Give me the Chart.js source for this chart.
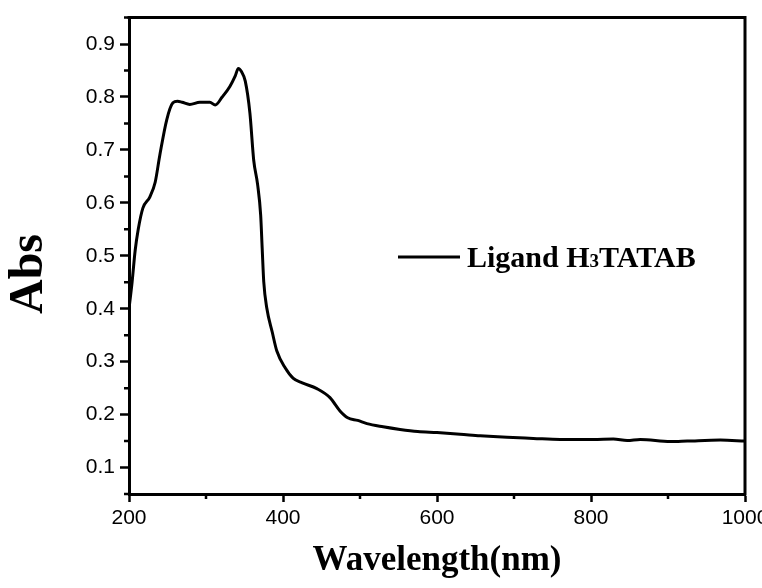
<!DOCTYPE html>
<html>
<head>
<meta charset="utf-8">
<title>Abs spectrum</title>
<script src="https://cdn.jsdelivr.net/npm/chart.js@4.4.0/dist/chart.umd.min.js"></script>
<style>
  html, body { margin: 0; padding: 0; background: #fff; }
  #wrap { width: 762px; height: 588px; overflow: hidden; }
</style>
</head>
<body>
<div id="wrap"><canvas id="absChart" width="762" height="588"></canvas></div>
<script>
// UV-Vis absorption of the ligand
const wavelength = [200, 204, 208, 212, 218, 227, 234, 240, 249, 257, 263, 269, 279, 292, 305, 312,
  321, 331, 338, 342, 346, 351, 357, 362, 367, 371, 373, 375, 379, 386, 392, 403, 413, 425, 444,
  461, 474, 484, 497, 509, 530, 552, 575, 600, 630, 656, 691, 725, 760, 803, 829, 847, 864, 903,
  925, 968, 1000];
const absorbance = [0.400, 0.450, 0.510, 0.550, 0.590, 0.611, 0.639, 0.690, 0.757, 0.789, 0.792,
  0.790, 0.786, 0.790, 0.790, 0.785, 0.800, 0.820, 0.840, 0.854, 0.848, 0.830, 0.770, 0.680,
  0.635, 0.577, 0.513, 0.451, 0.401, 0.356, 0.320, 0.288, 0.269, 0.260, 0.249, 0.232, 0.207,
  0.194, 0.189, 0.183, 0.177, 0.172, 0.168, 0.166, 0.163, 0.160, 0.157, 0.155, 0.153, 0.153,
  0.154, 0.151, 0.153, 0.149, 0.150, 0.152, 0.150];

const xTicks = [200, 400, 600, 800, 1000];
const xMinorTicks = [300, 500, 700, 900];
const yTicks = [0.1, 0.2, 0.3, 0.4, 0.5, 0.6, 0.7, 0.8, 0.9];
const yMinorTicks = [0.05, 0.15, 0.25, 0.35, 0.45, 0.55, 0.65, 0.75, 0.85, 0.95];

// legend text is split so the "3" can be drawn as a small digit
const seriesName = ['Ligand H', '3', 'TATAB'];

const points = wavelength.map((w, i) => ({ x: w, y: absorbance[i] }));

// frame, minor ticks, legend and the y title
const decorations = {
  id: 'decorations',
  afterDraw(chart) {
    const { ctx, chartArea: area, scales: { x, y } } = chart;
    ctx.save();
    ctx.strokeStyle = '#000';
    ctx.fillStyle = '#000';

    ctx.lineWidth = 3;
    ctx.beginPath();
    ctx.moveTo(area.left - 1.5, area.top);
    ctx.lineTo(area.right, area.top);
    ctx.lineTo(area.right, area.bottom + 1.5);
    ctx.stroke();

    ctx.lineWidth = 2.5;
    ctx.beginPath();
    yMinorTicks.forEach(v => {
      const py = y.getPixelForValue(v);
      ctx.moveTo(area.left - 5, py);
      ctx.lineTo(area.left, py);
    });
    xMinorTicks.forEach(v => {
      const px = x.getPixelForValue(v);
      ctx.moveTo(px, area.bottom);
      ctx.lineTo(px, area.bottom + 5);
    });
    ctx.stroke();

    // legend
    ctx.lineWidth = 3;
    ctx.beginPath();
    ctx.moveTo(398, 257);
    ctx.lineTo(460, 257);
    ctx.stroke();
    ctx.textBaseline = 'alphabetic';
    ctx.textAlign = 'left';
    let tx = 467;
    ctx.font = 'bold 30px "Liberation Serif"';
    ctx.fillText(seriesName[0], tx, 267);
    tx += ctx.measureText(seriesName[0]).width;
    ctx.font = 'bold 19px "Liberation Serif"';
    ctx.fillText(seriesName[1], tx, 267);
    tx += ctx.measureText(seriesName[1]).width;
    ctx.font = 'bold 30px "Liberation Serif"';
    ctx.fillText(seriesName[2], tx, 267);

    // y axis title
    ctx.translate(30, 274);
    ctx.rotate(-Math.PI / 2);
    ctx.font = 'bold 48px "Liberation Serif"';
    ctx.textAlign = 'center';
    ctx.textBaseline = 'middle';
    ctx.fillText('Abs', 0, 0);
    ctx.restore();
  }
};

new Chart(document.getElementById('absChart'), {
  type: 'line',
  data: {
    datasets: [{
      label: seriesName.join(''),
      data: points,
      borderColor: '#000',
      borderWidth: 3,
      pointRadius: 0,
      cubicInterpolationMode: 'monotone',
      fill: false
    }]
  },
  options: {
    responsive: false,
    animation: false,
    devicePixelRatio: 1,
    layout: { padding: { top: 14, right: 17, left: 0, bottom: 0 } },
    plugins: {
      legend: { display: false },
      tooltip: { enabled: false }
    },
    scales: {
      x: {
        type: 'linear',
        min: 200,
        max: 1000,
        afterBuildTicks: scale => { scale.ticks = xTicks.map(v => ({ value: v })); },
        afterFit: scale => {
          scale.height = 94;
          scale.paddingLeft = 0;
          scale.paddingRight = 0;
        },
        grid: { drawOnChartArea: false, drawTicks: true, tickLength: 8, tickWidth: 2.5, tickColor: '#000' },
        border: { display: true, width: 3, color: '#000' },
        ticks: {
          color: '#000',
          padding: 4,
          maxRotation: 0,
          callback: v => String(v),
          font: { family: '"Liberation Sans"', size: 21 }
        },
        title: {
          display: true,
          text: 'Wavelength(nm)',
          color: '#000',
          padding: { top: 0, bottom: 6 },
          font: { family: '"Liberation Serif"', size: 35, weight: 'bold' }
        }
      },
      y: {
        min: 0.05,
        max: 0.95,
        afterBuildTicks: scale => { scale.ticks = yTicks.map(v => ({ value: v })); },
        afterFit: scale => { scale.width = 129; },
        grid: { drawOnChartArea: false, drawTicks: true, tickLength: 9, tickWidth: 2.5, tickColor: '#000' },
        border: { display: true, width: 3, color: '#000' },
        ticks: {
          color: '#000',
          padding: 5,
          callback: v => v.toFixed(1),
          font: { family: '"Liberation Sans"', size: 21 }
        }
      }
    }
  },
  plugins: [decorations]
});
</script>
</body>
</html>
